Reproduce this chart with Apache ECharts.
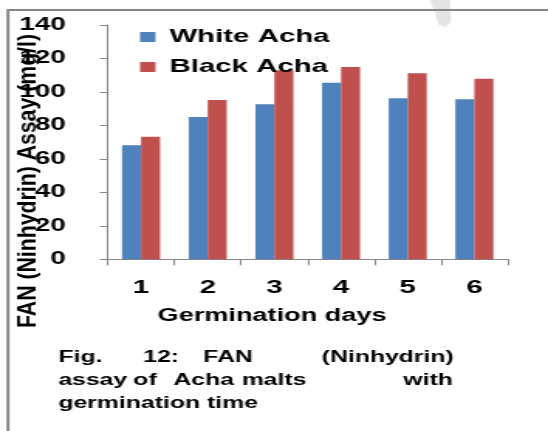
<!DOCTYPE html>
<html>
<head>
<meta charset="utf-8">
<script src="https://cdn.jsdelivr.net/npm/echarts@6/dist/echarts.min.js"></script>
<style>
  html, body { margin: 0; padding: 0; background: #fff; overflow: hidden; }
  #wrap { width: 354px; height: 431px; transform: scaleX(1.548); transform-origin: 0 0; }
  #chart { width: 354px; height: 431px; }
</style>
</head>
<body>
<div id="wrap"><div id="chart"></div></div>
<script>
// ---- data ----
const categories = ['1', '2', '3', '4', '5', '6'];
const whiteAcha = [68.2, 85.0, 92.6, 105.5, 96.2, 95.6];
const blackAcha = [73.2, 95.2, 112.9, 114.9, 111.1, 107.9];
const seriesNames = ['White Acha', 'Black Acha'];
const yMin = 0, yMax = 140, yStep = 20;
const xTitle = 'Germination days';
const yTitle = 'FAN (Ninhydrin) Assay (mg/l)';
const captionLines = [
  ['Fig.', '12:', 'FAN', '(Ninhydrin)'],
  ['assay', 'of', 'Acha', 'malts', 'with'],
  ['germination time']
];

// ---- layout (screen px converted to unstretched px) ----
const S = 1.548;
const u = v => v / S;
const FONT = "'Liberation Sans', Arial, Helvetica, sans-serif";
const captionX = [
  [58.3, 143.3, 203.3, 321.7],
  [58.3, 133.3, 173.3, 241.7, 403.3],
  [58.3]
];
const captionY = [358, 381, 404];

const graphics = [];
// frame
graphics.push({
  type: 'rect', silent: true, z: 0,
  shape: { x: u(8), y: 10, width: 400, height: 500 },
  style: { fill: 'none', stroke: '#868686', lineWidth: 2 }
});
// faint watermark stroke
graphics.push({
  type: 'polygon', silent: true, z: -1,
  shape: { points: [[u(430), 0], [u(450), 0], [u(451), 22], [u(446), 27], [u(439), 25]] },
  style: { fill: '#e4e4e4' }
});
// x axis title
graphics.push({
  type: 'text', silent: true,
  x: u(272), y: 316,
  style: { text: xTitle, font: "bold 17.5px " + FONT, fill: '#000', textAlign: 'center', textVerticalAlign: 'middle' }
});
// y axis title
graphics.push({
  type: 'text', silent: true,
  x: u(29), y: 181, rotation: Math.PI / 2, scaleX: 1.25,
  style: { text: yTitle, font: "bold 17px " + FONT, fill: '#000', textAlign: 'center', textVerticalAlign: 'middle' }
});
// caption
captionLines.forEach((words, li) => {
  words.forEach((w, wi) => {
    graphics.push({
      type: 'text', silent: true,
      x: u(captionX[li][wi]), y: captionY[li],
      style: { text: w, font: "bold 16px " + FONT, fill: '#000', textAlign: 'left', textVerticalAlign: 'middle' }
    });
  });
});

const chart = echarts.init(document.getElementById('chart'));
chart.setOption({
  animation: false,
  backgroundColor: '#fff',
  textStyle: { fontFamily: FONT },
  grid: { left: u(107.7), top: 25, width: u(507.7) - u(107.7), height: 234.3, containLabel: false },
  legend: {
    orient: 'vertical', left: u(140), top: 27, padding: 0,
    icon: 'rect', itemWidth: 10, itemHeight: 10, itemGap: 10,
    data: seriesNames,
    textStyle: { fontSize: 19, fontWeight: 'bold', color: '#000', fontFamily: FONT, lineHeight: 20, padding: [0, 0, 0, 4] }
  },
  xAxis: {
    type: 'category', data: categories,
    axisLine: { lineStyle: { color: '#868686', width: 1 } },
    axisTick: { show: true, length: 6, lineStyle: { color: '#868686' } },
    axisLabel: { fontSize: 19, fontWeight: 'bold', color: '#000', margin: 19, fontFamily: FONT }
  },
  yAxis: {
    type: 'value', min: yMin, max: yMax, interval: yStep,
    splitLine: { show: false },
    axisLine: { show: true, lineStyle: { color: '#868686', width: 1 } },
    axisTick: { show: true, length: 5, lineStyle: { color: '#868686' } },
    axisLabel: { fontSize: 18, fontWeight: 'bold', color: '#000', margin: 27, fontFamily: FONT }
  },
  series: [
    { name: seriesNames[0], type: 'bar', data: whiteAcha, barGap: '0%', barCategoryGap: '43%', itemStyle: { color: '#4F81BD' } },
    { name: seriesNames[1], type: 'bar', data: blackAcha, barGap: '0%', barCategoryGap: '43%', itemStyle: { color: '#C0504D' } }
  ],
  graphic: graphics
});
</script>
</body>
</html>
